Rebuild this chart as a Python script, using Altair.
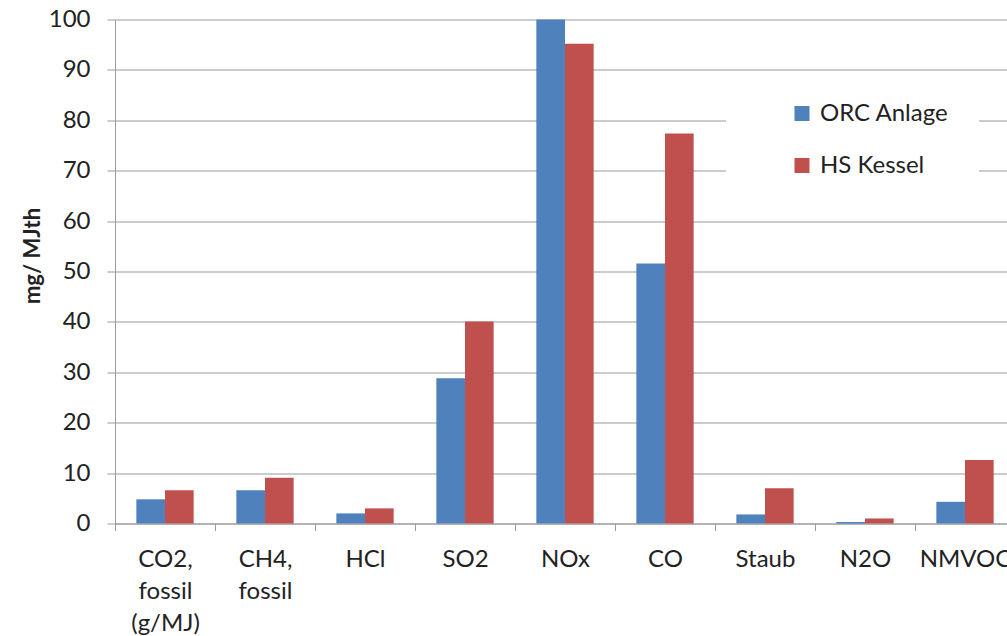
import altair as alt
import pandas as pd

# Emission categories (spaces become line breaks on the axis)
categories = ["CO2, fossil (g/MJ)", "CH4, fossil", "HCl", "SO2", "NOx",
              "CO", "Staub", "N2O", "NMVOC"]
series = ["ORC Anlage", "HS Kessel"]
orc_values = [4.8, 6.6, 2.0, 28.8, 100.0, 51.6, 1.8, 0.3, 4.3]
hs_values = [6.6, 9.1, 3.0, 40.1, 95.2, 77.4, 7.0, 1.0, 12.6]
colors = ["#4F81BD", "#C0504D"]

rows = []
for cat, a, b in zip(categories, orc_values, hs_values):
    rows.append({"Kategorie": cat, "Serie": series[0], "Wert": a})
    rows.append({"Kategorie": cat, "Serie": series[1], "Wert": b})
df = pd.DataFrame(rows)

FONT = "Lato"
GRAY = "#9a9a9a"

chart = alt.Chart(df).mark_bar().encode(
    x=alt.X(
        "Kategorie:N",
        sort=categories,
        scale=alt.Scale(range=[0, 900], paddingInner=0, paddingOuter=0),
        axis=alt.Axis(
            title=None,
            labelAngle=0,
            labelExpr="split(datum.label, ' ')",
            labelFont=FONT,
            labelFontSize=24,
            labelColor="#222222",
            labelLineHeight=32,
            labelPadding=17,
            labelBaseline="top",
            tickBand="extent",
            tickSize=7,
            tickColor=GRAY,
            domainColor=GRAY,
            grid=False,
        ),
    ),
    xOffset=alt.XOffset("Serie:N", sort=series,
                        scale=alt.Scale(paddingInner=0, paddingOuter=0.745)),
    y=alt.Y(
        "Wert:Q",
        scale=alt.Scale(domain=[0, 100], nice=False),
        axis=alt.Axis(
            title="mg/ MJth",
            titleFont=FONT,
            titleFontSize=22,
            titleFontWeight="bold",
            titleColor="#222222",
            titleAngle=270,
            titleAlign="center",
            titleBaseline="middle",
            titleX=-83,
            titleY=236,
            values=list(range(0, 101, 10)),
            labelFont=FONT,
            labelFontSize=24,
            labelColor="#222222",
            labelPadding=17,
            tickSize=8,
            tickColor=GRAY,
            domainColor=GRAY,
            gridColor=GRAY,
            gridWidth=1.2,
        ),
    ),
    color=alt.Color(
        "Serie:N",
        sort=series,
        scale=alt.Scale(domain=series, range=colors),
        legend=alt.Legend(
            title=None,
            orient="none",
            legendX=611,
            legendY=52,
            padding=30,
            fillColor="white",
            symbolType="square",
            symbolSize=225,
            symbolStrokeWidth=0,
            symbolOffset=34,
            labelOffset=6,
            labelFont=FONT,
            labelFontSize=24,
            labelColor="#222222",
            rowPadding=28,
        ),
    ),
).properties(
    width=892,
    height=504,
    autosize=alt.AutoSizeParams(type="none"),
    padding={"left": 115, "top": 19.5, "right": 0, "bottom": 112.5},
).configure_view(stroke=None)

chart.save("out.html", embed_options={"renderer": "svg", "actions": False})
